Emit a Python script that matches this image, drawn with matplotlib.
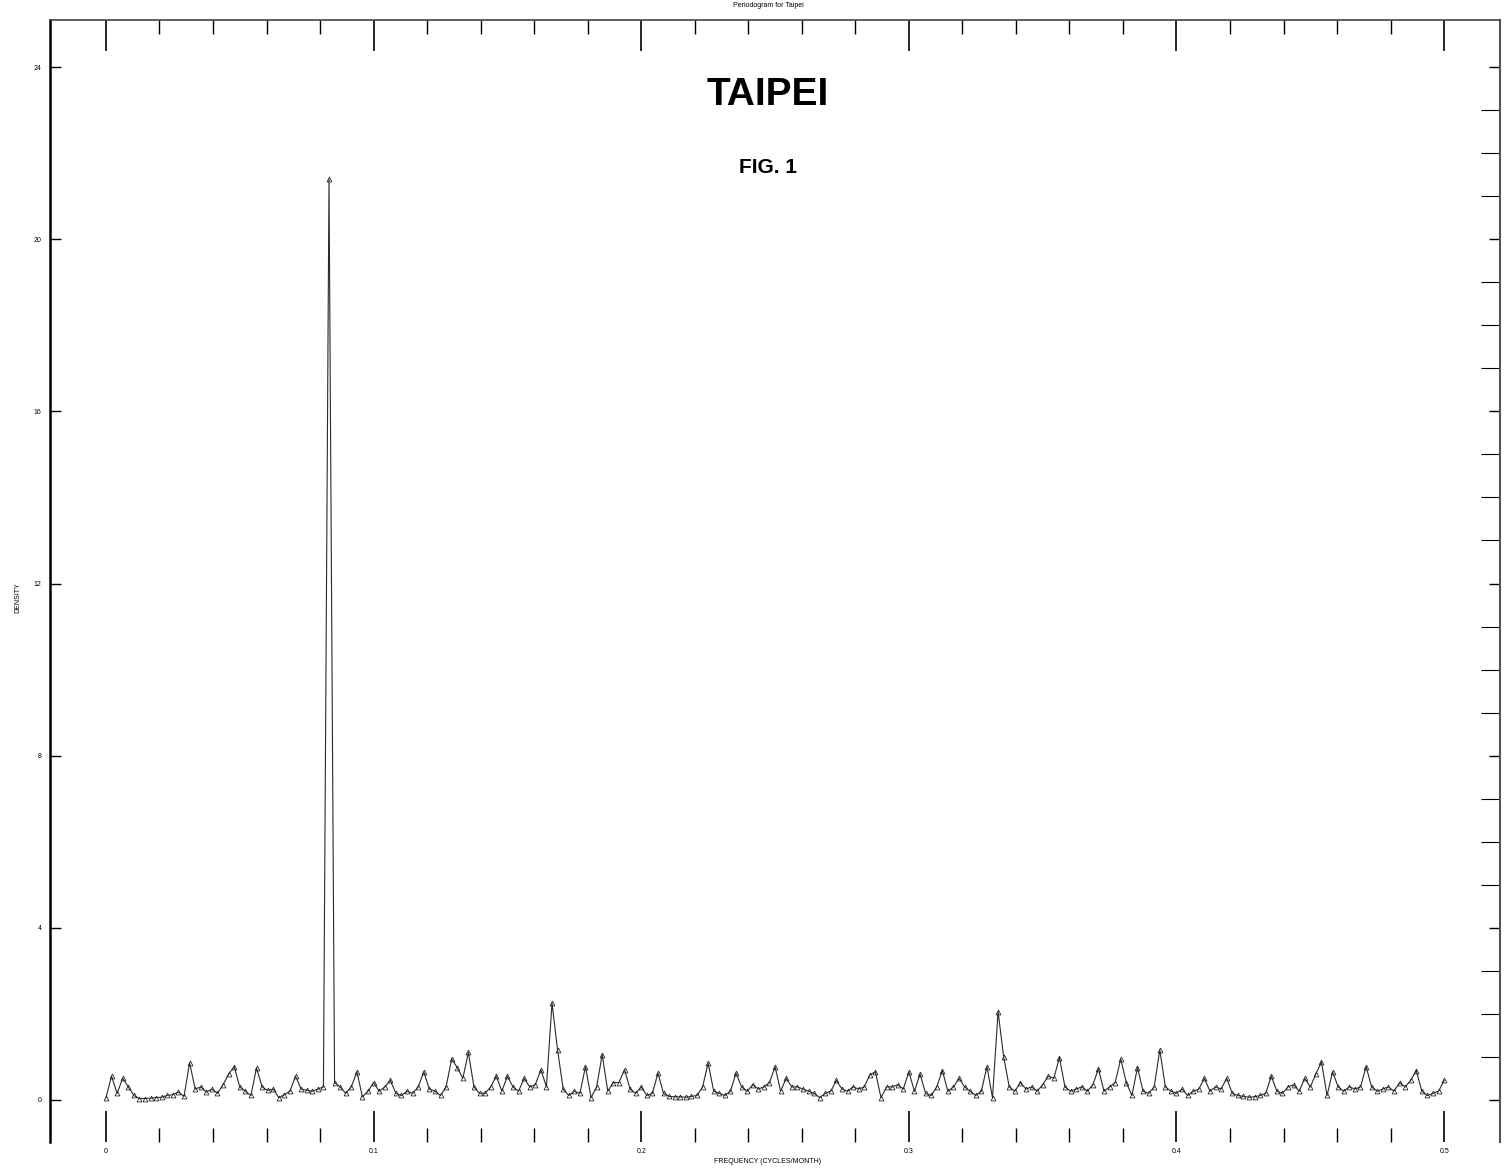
import numpy as np
import matplotlib.pyplot as plt

plt.rcParams["font.family"] = ["Liberation Sans", "DejaVu Sans"]

# periodogram ordinates, k = 0..240 (frequency k/480)
ordinates = [
    0.05, 0.55, 0.15, 0.5, 0.3, 0.1, 0.03, 0.03, 0.04, 0.05,
    0.06, 0.1, 0.12, 0.18, 0.08, 0.86, 0.25, 0.3, 0.18, 0.25,
    0.15, 0.35, 0.6, 0.77, 0.3, 0.2, 0.1, 0.74, 0.3, 0.22,
    0.25, 0.05, 0.12, 0.2, 0.55, 0.25, 0.22, 0.2, 0.25, 0.3,
    21.4, 0.4, 0.3, 0.15, 0.3, 0.65, 0.07, 0.2, 0.4, 0.2,
    0.3, 0.45, 0.15, 0.1, 0.2, 0.15, 0.3, 0.65, 0.25, 0.2,
    0.1, 0.3, 0.95, 0.75, 0.5, 1.1, 0.3, 0.15, 0.15, 0.3,
    0.55, 0.2, 0.55, 0.3, 0.2, 0.5, 0.3, 0.35, 0.7, 0.3,
    2.25, 1.15, 0.25, 0.1, 0.2, 0.15, 0.77, 0.05, 0.3, 1.05,
    0.2, 0.4, 0.4, 0.7, 0.25, 0.15, 0.3, 0.1, 0.15, 0.62,
    0.15, 0.08, 0.07, 0.07, 0.06, 0.08, 0.1, 0.3, 0.85, 0.2,
    0.15, 0.1, 0.2, 0.62, 0.3, 0.2, 0.35, 0.25, 0.3, 0.4,
    0.77, 0.2, 0.5, 0.3, 0.3, 0.25, 0.2, 0.15, 0.05, 0.15,
    0.2, 0.45, 0.25, 0.2, 0.3, 0.25, 0.3, 0.58, 0.65, 0.05,
    0.3, 0.3, 0.35, 0.25, 0.65, 0.2, 0.6, 0.15, 0.1, 0.3,
    0.68, 0.2, 0.3, 0.5, 0.3, 0.2, 0.1, 0.2, 0.77, 0.05,
    2.05, 1.0, 0.3, 0.2, 0.4, 0.25, 0.3, 0.2, 0.35, 0.55,
    0.5, 0.98, 0.3, 0.2, 0.25, 0.3, 0.2, 0.35, 0.72, 0.2,
    0.3, 0.4, 0.95, 0.4, 0.1, 0.75, 0.2, 0.15, 0.3, 1.16,
    0.3, 0.2, 0.15, 0.25, 0.1, 0.2, 0.25, 0.5, 0.2, 0.3,
    0.25, 0.5, 0.15, 0.1, 0.08, 0.06, 0.07, 0.1, 0.15, 0.55,
    0.2, 0.15, 0.3, 0.35, 0.2, 0.5, 0.3, 0.6, 0.88, 0.1,
    0.65, 0.3, 0.2, 0.3, 0.25, 0.3, 0.77, 0.3, 0.2, 0.25,
    0.3, 0.2, 0.4, 0.3, 0.45, 0.68, 0.2, 0.1, 0.15, 0.2,
    0.45,
]
n_months = 480
freq = np.arange(len(ordinates)) / n_months

x_ticks = [0.0, 0.1, 0.2, 0.3, 0.4, 0.5]
x_ticklabels = ["0", "0.1", "0.2", "0.3", "0.4", "0.5"]
y_ticks = [0, 4, 8, 12, 16, 20, 24]
y_ticklabels = ["0", "4", "8", "12", "16", "20", "24"]

fig = plt.figure(figsize=(15.07, 11.71), dpi=100)
ax = fig.add_axes([0.0332, 0.0248, 0.9622, 0.9582])

ax.plot(freq, ordinates, color="#2a2a2a", lw=0.8,
        marker="^", ms=3.5, mfc="none", mew=0.6)

ax.set_xlim(-0.0209, 0.5209)
ax.set_ylim(-0.98, 25.1)

ax.set_xticks(x_ticks)
ax.set_xticklabels(x_ticklabels, fontsize=5)
ax.set_xticks(np.arange(0, 0.501, 0.02), minor=True)
ax.set_yticks(y_ticks)
ax.set_yticklabels(y_ticklabels, fontsize=5)
ax.set_yticks(np.arange(0, 25, 1), minor=True)

ax.tick_params(axis="x", which="major", direction="in", length=22, width=1.2,
               top=True, bottom=True, pad=4)
ax.tick_params(axis="x", which="minor", direction="in", length=10, width=1,
               top=True, bottom=True)
ax.tick_params(axis="y", which="major", direction="in", length=8, width=1,
               left=True, right=True, pad=6)
ax.tick_params(axis="y", which="minor", direction="in", length=14, width=0.8,
               left=False, right=True)

ax.spines["bottom"].set_visible(False)
ax.spines["left"].set_linewidth(1.8)
ax.spines["right"].set_linewidth(1.5)
ax.spines["right"].set_color("#555555")
ax.spines["top"].set_linewidth(1.2)
ax.spines["top"].set_color("#444444")

fig.text(0.5096, 0.919, "TAIPEI", ha="center", va="center",
         fontsize=28, fontweight="bold")
fig.text(0.5096, 0.857, "FIG. 1", ha="center", va="center",
         fontsize=15, fontweight="bold")
fig.text(0.5096, 0.995, "Periodogram for Taipei", ha="center", va="center",
         fontsize=5)
fig.text(0.5096, 0.008, "FREQUENCY (CYCLES/MONTH)", ha="center", va="center",
         fontsize=5)
fig.text(0.012, 0.49, "DENSITY", ha="center", va="center",
         fontsize=5, rotation=90)

fig.savefig("out.png", dpi=100, facecolor="white")
